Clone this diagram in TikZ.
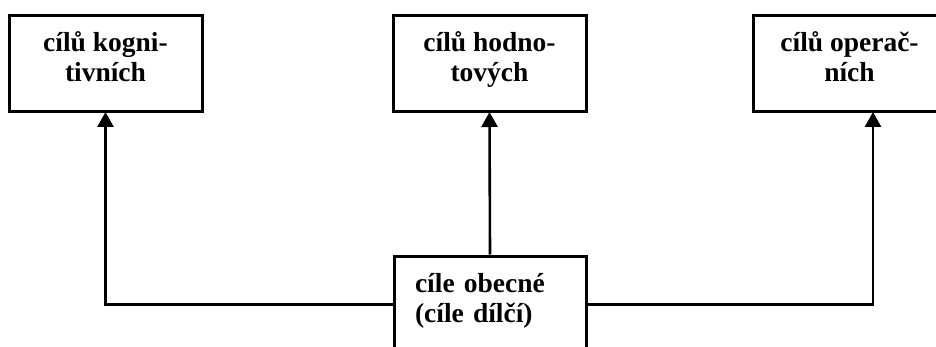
\documentclass[tikz,border=0pt]{standalone}
\usepackage{fontspec}
\setmainfont{Liberation Serif}
\usetikzlibrary{arrows.meta}
\newcommand\mytwo[3]{\smash{#1}\rule{0pt}{17pt}\\\smash{#2}\rule[-#3]{0pt}{#3}}
\begin{document}
\begin{tikzpicture}[x=1pt,y=-1pt,
  goal/.style={draw=black, line width=3pt, minimum width=193pt, minimum height=96pt,
    inner sep=0pt, align=center, font=\bfseries\fontsize{27.5}{30}\selectfont},
  basebox/.style={draw=black, line width=3pt, minimum width=192pt, minimum height=97pt,
    inner xsep=21pt, inner ysep=0pt, text width=150pt, align=left,
    font=\bfseries\fontsize{27.5}{30}\selectfont},
  conn/.style={draw=black, line width=2.6pt, -{Triangle[width=16pt,length=15pt]}, shorten >=-1pt}
]
\useasboundingbox (0,0) rectangle (936,347);
\clip (0,0) rectangle (936,347);
\node[goal] (kog) at (105.5,63.5) {\mytwo{cílů kogni-}{tivních}{10pt}};
\node[goal] (hod) at (489.5,63.5) {\mytwo{cílů hodno-}{tových}{10pt}};
\node[goal] (ope) at (849.5,63.5) {\mytwo{cílů operač-}{ních}{10pt}};
\node[basebox] (obe) at (490,304.5) {\mytwo{cíle obecné}{(cíle dílčí)}{12pt}};
\coordinate (opein) at ([xshift=23.5pt]ope.south);
\draw[conn] (obe.west) -| (kog.south);
\draw[conn] (obe.north) -- (hod.south);
\draw[conn] (obe.east) -| (opein);
\end{tikzpicture}
\end{document}
